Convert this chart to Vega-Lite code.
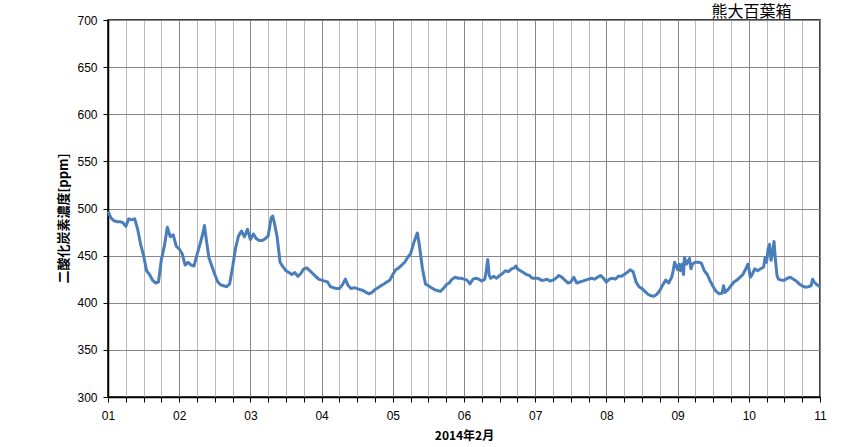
{
  "$schema": "https://vega.github.io/schema/vega-lite/v6.json",
  "autosize": "none",
  "width": 712,
  "height": 377,
  "padding": {"left": 108, "top": 20, "right": 43, "bottom": 50},
  "background": "white",
  "config": {
    "view": {"stroke": "#000000", "strokeWidth": 1.5},
    "font": "Liberation Sans"
  },
  "data": {
    "values": [
      {"h":0,"v":497},{"h":1,"v":490},{"h":2,"v":487},{"h":3,"v":486},{"h":4,"v":486},{"h":5,"v":485},{"h":6,"v":481},{"h":7,"v":489},{"h":8,"v":488},{"h":9,"v":489},{"h":10,"v":478},{"h":11,"v":462},{"h":12,"v":450},{"h":13,"v":434},{"h":14,"v":430},{"h":15,"v":424},{"h":16,"v":421},{"h":17,"v":422},{"h":18,"v":446},{"h":19,"v":460},{"h":20,"v":480},{"h":21,"v":470},{"h":22,"v":472},{"h":23,"v":460},{"h":24,"v":457},
      {"h":25,"v":452},{"h":26,"v":440},{"h":27,"v":443},{"h":28,"v":440},{"h":29,"v":439},{"h":30,"v":451},{"h":31,"v":462},{"h":32,"v":474},{"h":32.5,"v":482},{"h":33,"v":470},{"h":34,"v":448},{"h":35,"v":439},{"h":36,"v":430},{"h":37,"v":422},{"h":38,"v":419},{"h":39,"v":418},{"h":40,"v":417},{"h":41,"v":420},{"h":42,"v":438},{"h":43,"v":458},{"h":44,"v":471},{"h":45,"v":476},{"h":46,"v":470},{"h":47,"v":478},{"h":48,"v":467},
      {"h":49,"v":473},{"h":50,"v":468},{"h":51,"v":466},{"h":52,"v":466},{"h":53,"v":468},{"h":54,"v":471},{"h":55,"v":490},{"h":55.5,"v":492},{"h":56,"v":486},{"h":57,"v":470},{"h":58,"v":443},{"h":59,"v":438},{"h":60,"v":434},{"h":61,"v":432},{"h":62,"v":430},{"h":63,"v":432},{"h":64,"v":428},{"h":65,"v":431},{"h":66,"v":436},{"h":67,"v":437},{"h":68,"v":434},{"h":69,"v":431},{"h":70,"v":428},{"h":71,"v":425},{"h":72,"v":424},
      {"h":73,"v":423},{"h":74,"v":422},{"h":75,"v":417},{"h":76,"v":416},{"h":77,"v":415},{"h":78,"v":415},{"h":79,"v":419},{"h":80,"v":425},{"h":81,"v":418},{"h":82,"v":415},{"h":83,"v":416},{"h":84,"v":415},{"h":85,"v":414},{"h":86,"v":413},{"h":87,"v":411},{"h":88,"v":409.5},{"h":89,"v":411},{"h":90,"v":414},{"h":91,"v":416},{"h":92,"v":418},{"h":93,"v":420},{"h":94,"v":422},{"h":95,"v":424},{"h":96,"v":430},
      {"h":97,"v":435},{"h":98,"v":437},{"h":99,"v":440},{"h":100,"v":443},{"h":101,"v":448},{"h":102,"v":452},{"h":103,"v":463},{"h":104,"v":472},{"h":104.3,"v":474},{"h":105,"v":460},{"h":106,"v":436},{"h":107,"v":420},{"h":108,"v":418},{"h":109,"v":416},{"h":110,"v":414},{"h":111,"v":413},{"h":112,"v":412},{"h":113,"v":415},{"h":114,"v":419},{"h":115,"v":421},{"h":116,"v":425},{"h":117,"v":427},{"h":118,"v":426},{"h":119,"v":426},{"h":120,"v":425},
      {"h":121,"v":424},{"h":122,"v":420},{"h":123,"v":425},{"h":124,"v":426},{"h":125,"v":425},{"h":126,"v":423},{"h":127,"v":425},{"h":127.5,"v":434},{"h":128,"v":446},{"h":128.5,"v":429},{"h":129,"v":426},{"h":130,"v":428},{"h":131,"v":426},{"h":132,"v":429},{"h":133,"v":431},{"h":134,"v":434},{"h":135,"v":433},{"h":136,"v":436},{"h":137,"v":437},{"h":137.5,"v":439},{"h":138,"v":436},{"h":139,"v":434},{"h":140,"v":432},{"h":141,"v":430},{"h":142,"v":429},{"h":143,"v":426},{"h":144,"v":426},
      {"h":145,"v":426},{"h":146,"v":424},{"h":147,"v":424},{"h":148,"v":425},{"h":149,"v":423},{"h":150,"v":424},{"h":151,"v":426},{"h":152,"v":429},{"h":153,"v":427},{"h":154,"v":424},{"h":155,"v":421},{"h":156,"v":422},{"h":157,"v":427},{"h":158,"v":421},{"h":159,"v":422},{"h":160,"v":423},{"h":161,"v":424},{"h":162,"v":425},{"h":163,"v":426},{"h":164,"v":425},{"h":165,"v":427},{"h":166,"v":429},{"h":167,"v":426},{"h":168,"v":422},
      {"h":169,"v":425},{"h":170,"v":426},{"h":171,"v":425},{"h":172,"v":428},{"h":173,"v":428},{"h":174,"v":430},{"h":175,"v":432},{"h":176,"v":435},{"h":177,"v":433},{"h":178,"v":422},{"h":179,"v":417},{"h":180,"v":415},{"h":181,"v":412},{"h":182,"v":409},{"h":183,"v":407.5},{"h":184,"v":407},{"h":185,"v":409},{"h":186,"v":413},{"h":187,"v":419},{"h":188,"v":424},{"h":189,"v":421},{"h":190,"v":427},{"h":190.5,"v":434},{"h":191,"v":443},{"h":192,"v":435},
      {"h":192.5,"v":441},{"h":193,"v":434},{"h":193.5,"v":441},{"h":194,"v":430},{"h":194.3,"v":448},{"h":195,"v":441},{"h":196,"v":447},{"h":196.5,"v":436},{"h":197,"v":441},{"h":198,"v":443},{"h":199,"v":443},{"h":200,"v":442},{"h":201,"v":434},{"h":202,"v":430},{"h":203,"v":423},{"h":204,"v":417},{"h":205,"v":412},{"h":206,"v":409.5},{"h":207,"v":410},{"h":207.5,"v":418},{"h":208,"v":411},{"h":209,"v":414},{"h":210,"v":418},{"h":211,"v":422},{"h":212,"v":424},{"h":213,"v":427},{"h":214,"v":430},{"h":215,"v":436},{"h":215.7,"v":441},{"h":216,"v":437},
      {"h":216.5,"v":427},{"h":217,"v":429},{"h":218,"v":436},{"h":219,"v":434},{"h":220,"v":436},{"h":221,"v":438},{"h":221.5,"v":448},{"h":222,"v":443},{"h":222.5,"v":457},{"h":223,"v":462},{"h":223.5,"v":445},{"h":224,"v":453},{"h":224.5,"v":465},{"h":225,"v":445},{"h":225.5,"v":429},{"h":226,"v":425},{"h":227,"v":424},{"h":228,"v":424},{"h":229,"v":426},{"h":230,"v":427},{"h":231,"v":425},{"h":232,"v":423},{"h":233,"v":420},{"h":234,"v":418},{"h":235,"v":416.5},{"h":236,"v":417},{"h":237,"v":418},{"h":237.5,"v":425},{"h":238,"v":422},{"h":239,"v":419},{"h":240,"v":417}
    ]
  },
  "resolve": {"axis": {"x": "independent"}},
  "layer": [
    {
      "mark": {"type": "line", "color": "#4a7ebb", "strokeWidth": 3, "strokeJoin": "round"},
      "encoding": {
        "x": {
          "field": "h",
          "type": "quantitative",
          "scale": {"domain": [0, 240], "nice": false, "zero": false},
          "axis": {
            "orient": "bottom",
            "title": "2014年2月",
            "titleFont": "Noto Sans CJK JP",
            "titleFontSize": 12,
            "titleFontWeight": "bold",
            "titleColor": "#000000",
            "titlePadding": 9,
            "values": [0,6,12,18,24,30,36,42,48,54,60,66,72,78,84,90,96,102,108,114,120,126,132,138,144,150,156,162,168,174,180,186,192,198,204,210,216,222,228,234,240],
            "labelExpr": "datum.value % 24 == 0 ? (datum.value/24 + 1 < 10 ? '0' : '') + (datum.value/24 + 1) : ''",
            "labelFontSize": 12,
            "labelColor": "#000000",
            "labelPadding": 8,
            "labelFlush": false,
            "labelOverlap": false,
            "tickSize": 5,
            "tickColor": "#000000",
            "domainColor": "#000000",
            "domainWidth": 1.5,
            "grid": true,
            "gridColor": {"expr": "datum.value % 24 == 0 ? '#868686' : '#b9b9b9'"},
            "gridWidth": 1
          }
        },
        "y": {
          "field": "v",
          "type": "quantitative",
          "scale": {"domain": [300, 700], "nice": false, "zero": false},
          "axis": {
            "title": "二酸化炭素濃度[ppm]",
            "titleFont": "Noto Sans CJK JP",
            "titleFontSize": 13,
            "titleFontWeight": "bold",
            "titleColor": "#000000",
            "titlePadding": 6,
            "titleY": 198,
            "values": [300,350,400,450,500,550,600,650,700],
            "labelFontSize": 12,
            "labelColor": "#000000",
            "labelPadding": 6,
            "labelFlush": false,
            "tickSize": 5,
            "tickColor": "#000000",
            "domainColor": "#000000",
            "domainWidth": 1.5,
            "grid": true,
            "gridColor": "#868686",
            "gridWidth": 1
          }
        }
      }
    },
    {
      "mark": {"type": "line", "strokeOpacity": 0},
      "encoding": {
        "x": {
          "field": "h",
          "type": "quantitative",
          "axis": {
            "orient": "top",
            "title": "熊大百葉箱",
            "titleFont": "Noto Sans CJK JP",
            "titleFontSize": 16,
            "titleFontWeight": "normal",
            "titleColor": "#000000",
            "titleAnchor": "end",
            "titleAlign": "right",
            "titleBaseline": "alphabetic",
            "titleX": 683,
            "titleY": -4,
            "labels": false,
            "ticks": false,
            "domain": false,
            "grid": false
          }
        }
      }
    }
  ]
}
